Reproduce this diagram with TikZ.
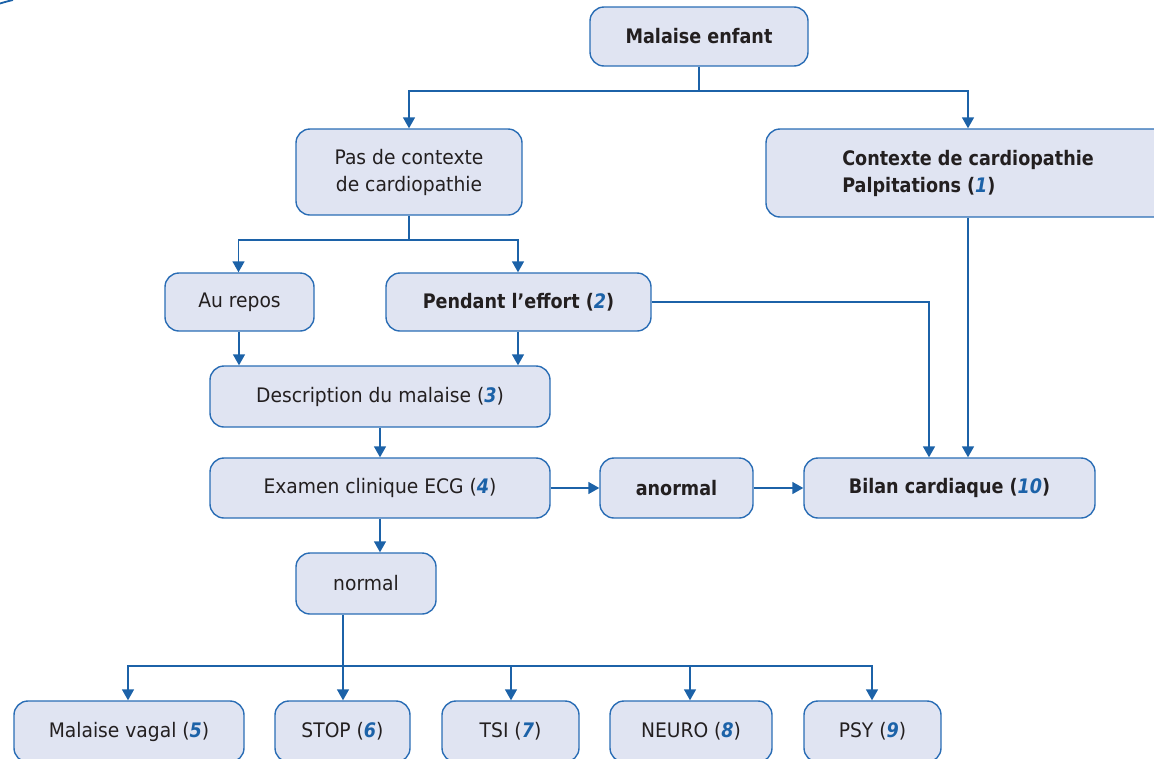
\documentclass[tikz,border=0pt]{standalone}
\usepackage{fontspec}
\setmainfont{DejaVu Sans}[FakeStretch=0.935,
  BoldFeatures={FakeStretch=0.88},
  BoldItalicFeatures={FakeStretch=0.88}]
\usetikzlibrary{arrows.meta}
\definecolor{boxfill}{HTML}{E0E4F2}
\definecolor{boxline}{HTML}{2A6DB5}
\definecolor{linkblue}{HTML}{1C62A8}
\definecolor{txt}{HTML}{231F20}
\newcommand{\refn}[1]{\textcolor{linkblue}{\textbf{\textit{#1}}}}
\tikzset{
  box/.style={draw=boxline, line width=1.4pt, fill=boxfill, rounded corners=14pt,
    text=txt, inner sep=0pt, align=center,
    font=\fontsize{20}{27}\selectfont},
  link/.style={draw=linkblue, line width=1.5pt},
  arr/.style={link, -{Triangle[length=11pt,width=12pt]}},
}
\begin{document}
\begin{tikzpicture}[x=1pt,y=-1pt]
\useasboundingbox (0,0) rectangle (1154,758);

% corner ornament
\draw[linkblue, line width=1.8pt] (0,3.5) .. controls (4,2.2) and (8,1.2) .. (13,0);

% boxes
\node[box, minimum width=218pt, minimum height=59pt] (mal) at (699,36.5) {\textbf{Malaise enfant}};
\node[box, minimum width=226pt, minimum height=86pt] (pas) at (409,172) {Pas de contexte\\de cardiopathie};
\node[box, minimum width=404pt, minimum height=88pt, align=left] (ctx) at (968,173)
  {\textbf{Contexte de cardiopathie}\\\textbf{Palpitations (\refn{1})}};
\node[box, minimum width=149pt, minimum height=58pt] (au) at (239.5,302) {Au repos};
\node[box, minimum width=265pt, minimum height=58pt] (pen) at (518.5,302) {\textbf{Pendant l’effort (\refn{2})}};
\node[box, minimum width=340pt, minimum height=61pt] (desc) at (380,396.5) {Description du malaise (\refn{3})};
\node[box, minimum width=340pt, minimum height=60pt] (exa) at (380,488) {Examen clinique ECG (\refn{4})};
\node[box, minimum width=153pt, minimum height=60pt] (ano) at (676.5,488) {\textbf{anormal}};
\node[box, minimum width=291pt, minimum height=60pt] (bil) at (949.5,488) {\textbf{Bilan cardiaque (\refn{10})}};
\node[box, minimum width=140pt, minimum height=61pt] (nor) at (366,583.5) {normal};
\node[box, minimum width=230pt, minimum height=61pt] (b5) at (129,731.5) {Malaise vagal (\refn{5})};
\node[box, minimum width=135pt, minimum height=61pt] (b6) at (342.5,731.5) {STOP (\refn{6})};
\node[box, minimum width=137pt, minimum height=61pt] (b7) at (510.5,731.5) {TSI (\refn{7})};
\node[box, minimum width=162pt, minimum height=61pt] (b8) at (691,731.5) {NEURO (\refn{8})};
\node[box, minimum width=137pt, minimum height=61pt] (b9) at (872.5,731.5) {PSY (\refn{9})};

% junction points
\coordinate (j1) at (699,91);
\coordinate (j2) at (409,240);
\coordinate (j3) at (343,666);

% connectors
\draw[link] (mal.south) -- (j1);
\draw[arr] (j1) -| (pas.north);
\draw[arr] (j1) -| (ctx.north);

\draw[link] (pas.south) -- (j2);
\draw[arr] (j2) -| ([xshift=-1pt]au.north);
\draw[arr] (j2) -| ([xshift=-0.5pt]pen.north);

\draw[arr] ([xshift=-0.5pt]au.south) -- ([xshift=-0.5pt]au.south |- desc.north);
\draw[arr] ([xshift=-0.5pt]pen.south) -- ([xshift=-0.5pt]pen.south |- desc.north);
\draw[arr] (pen.east) -| ([xshift=-20.5pt]bil.north);
\draw[arr] (ctx.south) -- (ctx.south |- bil.north);

\draw[arr] (desc.south) -- (exa.north);
\draw[arr] (exa.east) -- (ano.west);
\draw[arr] (ano.east) -- (bil.west);
\draw[arr] (exa.south) -- (exa.south |- nor.north);

\draw[link] (nor.south -| j3) -- (j3);
\draw[arr] (j3) -| ([xshift=-1pt]b5.north);
\draw[arr] (j3) -- (j3 |- b6.north);
\draw[arr] (j3) -| ([xshift=0.5pt]b7.north);
\draw[arr] (j3) -| ([xshift=-1pt]b8.north);
\draw[arr] (j3) -| ([xshift=-0.5pt]b9.north);
\end{tikzpicture}
\end{document}
